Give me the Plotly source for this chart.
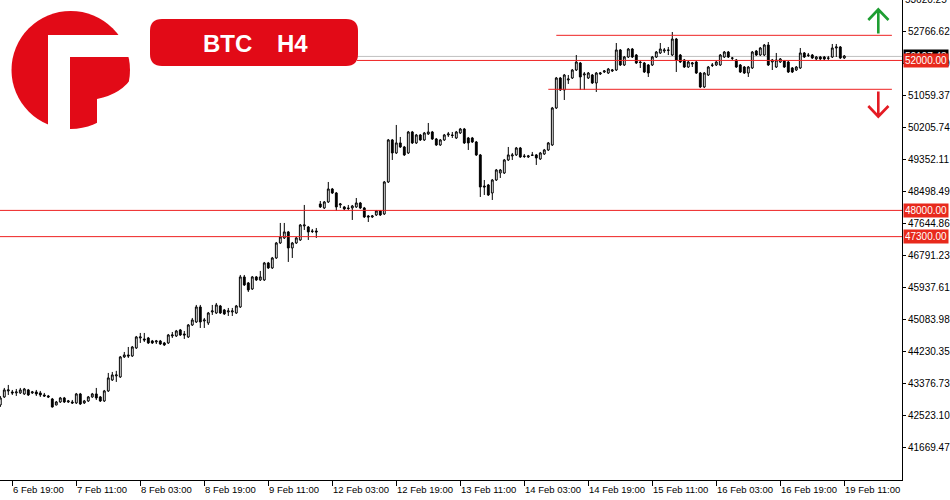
import pandas as pd
import plotly.graph_objects as go

# ---------------- data (BTC, hourly bars as displayed) ----------------
opens = [42810,43024,43184,43157,43131,43131,43104,43211,43131,43157,43131,43077,43050,42970,42810,42890,42997,42890,42890,42864,
         43104,42864,42917,43024,43104,43024,42917,43184,43477,43585,43557,44091,44144,44117,44331,44597,44571,44597,44517,44491,
         44517,44464,44464,44651,44651,44811,44704,44624,44944,45024,45424,45050,44997,45291,45264,45451,45344,45291,45291,45264,
         45424,46225,46065,45904,46225,46145,46145,46598,46465,46731,47131,47265,47425,46998,47131,47211,47585,47558,47451,47451,
         48171,48065,48225,48571,48465,48145,48092,48065,48065,48092,48198,48065,47851,47825,47878,47985,47905,48758,49879,49532,
         49799,49692,49532,50092,49799,50012,49879,50039,50092,49905,49745,49879,50012,50012,49932,50065,50172,49932,49932,49825,
         49479,48651,48678,48465,48811,48998,48998,49345,49452,49479,49665,49452,49425,49479,49479,49372,49505,49612,49745,50732,
         51532,51212,51479,51532,51745,51932,51612,51532,51612,51399,51639,51692,51665,51719,51745,52279,51879,52092,52305,52145,
         51959,51932,51879,51879,52092,52199,52252,52279,52145,52572,52145,52012,51825,51905,51959,51665,51292,51612,51879,51879,
         51879,52092,52225,52065,52012,51879,51825,51665,51799,52252,52145,52145,52412,51959,51825,51959,51985,51959,51799,51745,
         51799,52199,52145,52145,52039,52092,52092,52065,52092,52332,52359,52065]
highs = [43050,43264,43344,43211,43237,43264,43264,43237,43184,43211,43184,43131,43077,42997,42917,43024,43024,42944,42944,43131,
         43131,42944,43050,43131,43264,43050,43211,43664,43691,43720,44117,44224,44357,44384,44651,44731,44731,44624,44544,44544,
         44544,44491,44704,44757,44811,44837,44784,44970,45131,45478,45478,45131,45291,45478,45531,45478,45371,45398,45398,45478,
         46278,46278,46091,46251,46251,46385,46625,46625,46758,47158,47665,47665,47451,47158,47291,47638,48145,47585,47505,47531,
         48251,48251,48758,48598,48491,48198,48118,48145,48145,48331,48225,48092,47878,47878,48011,48011,48785,49905,49905,50279,
         49959,49719,50119,50119,50039,50039,50092,50332,50119,49932,49905,50039,50092,50092,50119,50199,50199,49959,49959,49852,
         49505,48811,48705,48838,49105,49105,49372,49692,49532,49692,49692,49505,49479,49559,49505,49559,49639,49825,50759,51559,
         51559,51639,51612,51772,52145,51959,51692,51692,51639,51692,51692,51745,51799,51772,52465,52305,52119,52332,52332,52172,
         52012,51959,51905,52119,52252,52465,52332,52359,52759,52599,52172,52039,51985,51959,51985,51692,51692,51852,51932,51985,
         52172,52252,52252,52092,52039,51905,51852,51852,52252,52279,52359,52439,52492,52039,52199,52065,52012,51985,51825,51852,
         52332,52225,52199,52172,52119,52119,52119,52119,52439,52439,52385,52145]
lows = [42757,42997,43077,43077,43050,43104,43077,43050,43104,43050,43024,43024,42997,42740,42800,42864,42864,42864,42837,42837,
        42810,42837,42890,43000,42944,42890,42890,43157,43450,43424,43531,44064,44064,44091,44304,44464,44491,44437,44437,44437,
        44411,44384,44437,44597,44624,44651,44571,44597,44917,44997,44864,44864,44944,45211,45238,45238,45211,45184,45184,45238,
        45398,45985,45825,45878,46118,46118,46118,46438,46438,46705,47105,47238,46625,46731,47105,47185,47478,47211,47398,47265,
        48065,48038,48198,48438,47985,48065,48011,48011,47745,48065,48038,47798,47691,47798,47851,47851,47878,48731,49345,49505,
        49665,49452,49505,49772,49772,49852,49852,50012,49879,49719,49719,49852,49959,49932,49905,50039,49772,49612,49799,49452,
        48358,48411,48385,48278,48785,48865,48971,49318,49345,49452,49399,49399,49399,49452,49212,49345,49479,49585,49719,50705,
        51185,50945,51372,51505,51719,51212,51212,51505,51372,51159,51612,51665,51639,51692,51719,51852,51852,52065,52065,51905,
        51799,51665,51559,51852,52065,52172,52199,52145,52119,51692,51932,51799,51799,51825,51639,51265,51265,51585,51825,51852,
        51852,52065,52065,52012,51799,51665,51639,51559,51772,52119,52119,52119,51852,51745,51799,51932,51799,51665,51665,51719,
        51772,52065,52092,52039,52012,52012,52012,52012,52065,52092,52039,52039]
closes = [42997,43211,43211,43131,43157,43211,43237,43077,43157,43104,43077,43050,43024,42757,42890,42997,42890,42917,42864,43104,
          42837,42917,43024,43104,42997,42917,43184,43531,43611,43611,44091,44144,44117,44357,44624,44624,44544,44464,44464,44517,
          44437,44411,44677,44677,44784,44677,44677,44944,45077,45424,45024,45077,45264,45318,45478,45264,45238,45318,45318,45451,
          46225,46011,45878,46225,46145,46225,46598,46465,46731,47131,47291,47425,46998,47131,47265,47611,47611,47425,47440,47425,
          48092,48225,48571,48465,48092,48171,48038,48050,48118,48198,48065,47825,47825,47851,47985,47878,48758,49879,49532,49799,
          49692,49479,50092,49799,50012,49879,50065,50092,49905,49745,49879,50012,50039,50000,50092,50172,49799,49799,49825,49479,
          48625,48625,48411,48811,49078,49078,49345,49479,49479,49665,49425,49440,49452,49470,49399,49532,49612,49799,50732,51532,
          51212,51612,51505,51745,51959,51559,51639,51665,51399,51665,51665,51719,51772,51745,52279,51879,52092,52305,52092,51932,
          51945,51692,51665,52092,52225,52305,52279,52270,52572,52012,51959,51825,51959,51932,51665,51292,51665,51825,51870,51959,
          52145,52225,52092,52060,51825,51692,51665,51825,52225,52145,52332,52412,51879,52012,52012,52039,51825,51692,51692,51825,
          52199,52092,52135,52065,52092,52039,52039,52060,52332,52359,52065,52119]

tick_labels = ["6 Feb 19:00", "7 Feb 11:00", "8 Feb 03:00", "8 Feb 19:00", "9 Feb 11:00",
               "12 Feb 03:00", "12 Feb 19:00", "13 Feb 11:00", "14 Feb 03:00", "14 Feb 19:00",
               "15 Feb 11:00", "16 Feb 03:00", "16 Feb 19:00", "19 Feb 11:00"]
price_ticks = [41669.47, 42523.10, 43376.73, 44230.35, 45083.98, 45937.61, 46791.23,
               47644.86, 48498.49, 49352.11, 50205.74, 51059.37, 51912.99, 52766.62]
top_partial_tick = "53620.25"

level_full = [48000.00, 47300.00]     # horizontal levels across the chart
level_52k = 52000.00
bid_price = 52107.48
range_top = 52670
range_bottom = 51230

# ---------------- time axis (trading hours, weekends skipped) ----------------
t = pd.date_range("2024-02-06 16:00", "2024-02-19 11:00", freq="h")
t = t[t.dayofweek < 5]
times = [f"{d.day} {d:%b %H:%M}" for d in t]

# ---------------- geometry helpers (pixel -> paper) ----------------
W_PLOT, H_PLOT = 902, 480
def px(x):
    return x / W_PLOT
def py(y):
    return 1 - y / H_PLOT
def P(x, y):
    return f"{px(x):.5f},{py(y):.5f}"

RED = "#ee2222"
LOGO_RED = "#e20a17"
FONT = "Liberation Sans"

fig = go.Figure()
fig.add_trace(go.Candlestick(
    x=times, open=opens, high=highs, low=lows, close=closes,
    increasing=dict(line=dict(color="black", width=1), fillcolor="white"),
    decreasing=dict(line=dict(color="black", width=1), fillcolor="black"),
    whiskerwidth=0, showlegend=False, hoverinfo="skip"))

shapes = []
# horizontal level lines
for lv in level_full:
    shapes.append(dict(type="line", xref="paper", yref="y", x0=0, x1=1, y0=lv, y1=lv,
                       line=dict(color=RED, width=1), layer="above"))
shapes.append(dict(type="line", xref="paper", yref="y", x0=px(357), x1=1, y0=bid_price, y1=bid_price,
                   line=dict(color="#c0c0c0", width=1), layer="below"))
shapes.append(dict(type="line", xref="paper", yref="y", x0=px(357), x1=1, y0=level_52k, y1=level_52k,
                   line=dict(color=RED, width=1), layer="above"))
shapes.append(dict(type="line", xref="x", yref="y", x0=139, x1=222.9, y0=range_top, y1=range_top,
                   line=dict(color=RED, width=1), layer="above"))
shapes.append(dict(type="line", xref="x", yref="y", x0=137, x1=222.9, y0=range_bottom, y1=range_bottom,
                   line=dict(color=RED, width=1), layer="above"))

# arrows
green = "#1e9e32"
shapes.append(dict(type="path", xref="paper", yref="paper",
                   path=f"M{P(878.3,33.5)} L{P(878.3,9.5)} M{P(868.3,20)} L{P(878.3,9.5)} L{P(888.5,20)}",
                   line=dict(color=green, width=2.6)))
shapes.append(dict(type="path", xref="paper", yref="paper",
                   path=f"M{P(878.3,91.5)} L{P(878.3,116.5)} M{P(868.3,106)} L{P(878.3,116.5)} L{P(888.5,106)}",
                   line=dict(color="#e41b23", width=2.6)))

# logo: red disc with white F-shaped cut-outs
shapes.append(dict(type="circle", xref="paper", yref="paper", x0=px(11.5), x1=px(130), y0=py(129), y1=py(11),
                   fillcolor=LOGO_RED, line=dict(width=0)))
for (x0, y0, x1, y1) in [(48, 37, 70, 132), (48, 35, 133, 57)]:
    shapes.append(dict(type="rect", xref="paper", yref="paper", x0=px(x0), x1=px(x1), y0=py(y1), y1=py(y0),
                       fillcolor="white", line=dict(width=0)))
shapes.append(dict(type="path", xref="paper", yref="paper",
                   path=f"M{P(97,132)} L{P(97,99)} Q{P(122,94)} {P(133,76)} L{P(133,132)} Z",
                   fillcolor="white", line=dict(width=0)))

# title pill
x0b, x1b, y0b, y1b, r = 150, 358, 19, 66, 12
pill = (f"M{P(x0b+r,y0b)} L{P(x1b-r,y0b)} Q{P(x1b,y0b)} {P(x1b,y0b+r)} L{P(x1b,y1b-r)} "
        f"Q{P(x1b,y1b)} {P(x1b-r,y1b)} L{P(x0b+r,y1b)} Q{P(x0b,y1b)} {P(x0b,y1b-r)} "
        f"L{P(x0b,y0b+r)} Q{P(x0b,y0b)} {P(x0b+r,y0b)} Z")
shapes.append(dict(type="path", xref="paper", yref="paper", path=pill,
                   fillcolor=LOGO_RED, line=dict(width=0)))

annotations = []
annotations.append(dict(xref="paper", yref="paper", x=px(227), y=py(43.5), text="<b>BTC</b>", showarrow=False,
                        font=dict(family=FONT, size=24, color="white"), xanchor="center", yanchor="middle"))
annotations.append(dict(xref="paper", yref="paper", x=px(292.5), y=py(43.5), text="<b>H4</b>", showarrow=False,
                        font=dict(family=FONT, size=24, color="white"), xanchor="center", yanchor="middle"))

# x tick labels, left-aligned at their tick
for lab in tick_labels:
    annotations.append(dict(xref="x", yref="paper", x=lab, y=py(490), text=lab, showarrow=False,
                            xanchor="left", yanchor="middle", xshift=-1,
                            font=dict(family=FONT, size=9.5, color="black")))

# partially visible top price label
annotations.append(dict(xref="paper", yref="paper", x=1, y=py(-0.5), text=top_partial_tick, showarrow=False,
                        xanchor="left", yanchor="middle", xshift=1,
                        font=dict(family=FONT, size=10, color="black")))

# price tags on the axis
def tag(price, color):
    return dict(xref="paper", yref="y", x=1, y=price, text=f"{price:.2f}", showarrow=False,
                xanchor="left", yanchor="middle", xshift=1, bgcolor=color, borderpad=1,
                width=42, height=11, font=dict(family=FONT, size=10, color="white"))
annotations.append(tag(bid_price, "black"))
annotations.append(tag(level_52k, "#e8291c"))
for lv in level_full:
    annotations.append(tag(lv, "#e8291c"))

fig.update_layout(
    width=950, height=500,
    margin=dict(l=0, r=48, t=0, b=20),
    paper_bgcolor="white", plot_bgcolor="white",
    showlegend=False,
    boxgap=0.35,
    shapes=shapes, annotations=annotations,
    xaxis=dict(type="category", range=[-0.075, 225.425], showgrid=False, zeroline=False,
               showline=True, linecolor="black", linewidth=1,
               ticks="outside", ticklen=5, tickcolor="black", tickvals=tick_labels,
               showticklabels=False, rangeslider=dict(visible=False), fixedrange=True),
    yaxis=dict(side="right", range=[40808.6, 53612.2], showgrid=False, zeroline=False,
               showline=True, linecolor="black", linewidth=1,
               ticks="outside", ticklen=3, tickcolor="black",
               tickvals=price_ticks, ticktext=[f"{v:.2f}" for v in price_ticks],
               tickfont=dict(family=FONT, size=10, color="black"), fixedrange=True),
)

fig.write_html("out.html", config={"displayModeBar": False},
               post_script="document.body.style.margin='0';")
